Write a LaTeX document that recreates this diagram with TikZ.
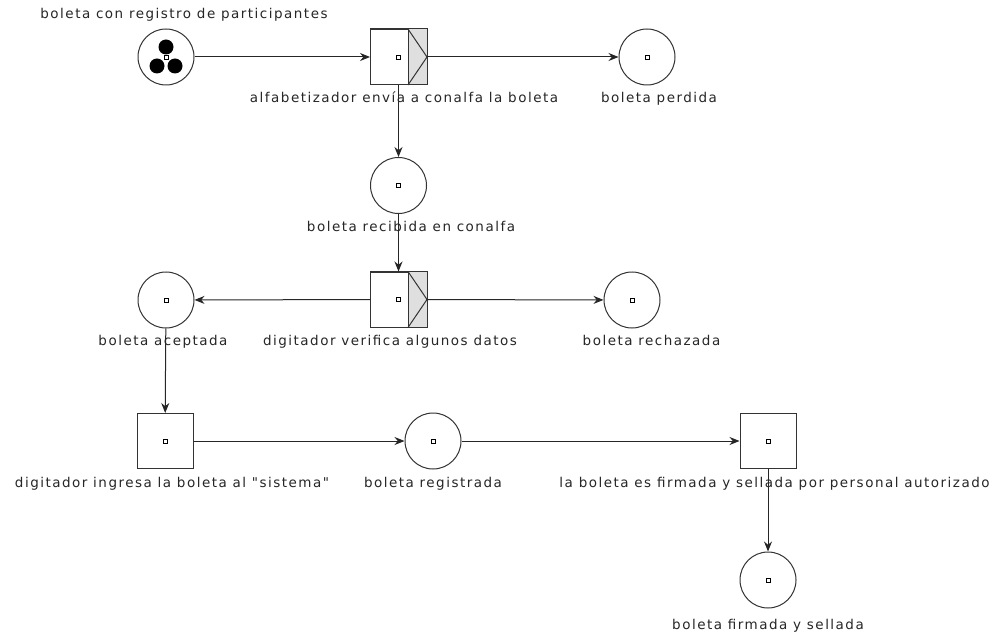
\documentclass[tikz,border=0pt]{standalone}
\usepackage{fontspec}
\setmainfont{DejaVu Sans}
\newfontfamily\lblfont[LetterSpace=11]{DejaVu Sans}
\usetikzlibrary{arrows.meta}

\begin{document}
\begin{tikzpicture}[x=1pt, y=-1pt, >={Stealth[length=10pt, width=8pt]}, line width=1pt,
  place/.style={circle, draw=black!80, minimum size=56pt, inner sep=0pt},
  trans/.style={rectangle, draw=black!80, minimum width=56pt, minimum height=55pt, inner sep=0pt},
  lbl/.style={anchor=base, font=\lblfont\fontsize{13.5}{16}\selectfont, text=black!85},
  arc/.style={->, draw=black!85}]
  \useasboundingbox (0,0) rectangle (1000,636);
  % places and transitions
  \node[place] (pInicio) at (166,57) {};
  \node[trans] (tEnvia) at (398.5,57) {};
  \node[place] (pPerdida) at (647,57) {};
  \node[place] (pRecibida) at (398.5,185.5) {};
  \node[trans] (tVerifica) at (398.5,299.5) {};
  \node[place] (pAceptada) at (166,300) {};
  \node[place] (pRechazada) at (632,300) {};
  \node[trans] (tIngresa) at (165,441) {};
  \node[place] (pRegistrada) at (433,441) {};
  \node[trans] (tFirma) at (768,441) {};
  \node[place] (pFirmada) at (768,580) {};
  % split operator part
  \foreach \t in {tEnvia,tVerifica} {
    \fill[gray!25] ([xshift=-19pt]\t.north east) rectangle (\t.south east);
    \draw[black!80] ([xshift=-19pt]\t.north east) -- ([xshift=-19pt]\t.south east);
    \draw[black!80] ([xshift=-19pt]\t.north east) -- (\t.east) -- ([xshift=-19pt]\t.south east);
    \draw[black!80] (\t.north west) rectangle (\t.south east);
  }
  % centre marks
  \foreach \n in {pInicio,tEnvia,pPerdida,pRecibida,tVerifica,pAceptada,pRechazada,tIngresa,pRegistrada,tFirma,pFirmada}
    \draw[line width=0.6pt] ([shift={(-2pt,-2pt)}]\n.center) rectangle ([shift={(2pt,2pt)}]\n.center);
  % tokens
  \foreach \dx/\dy in {0/-10,-9/9,9/9}
    \fill ([shift={(\dx,\dy)}]pInicio.center) circle (7.5pt);
  % arcs
  \draw[arc] (pInicio) -- (tEnvia);
  \draw[arc] (tEnvia) -- (pPerdida);
  \draw[arc] (tEnvia) -- (pRecibida);
  \draw[arc] (pRecibida) -- (tVerifica);
  \draw[arc] (tVerifica) -- (pAceptada);
  \draw[arc] (tVerifica) -- (pRechazada);
  \draw[arc] (pAceptada) -- (tIngresa);
  \draw[arc] (tIngresa) -- (pRegistrada);
  \draw[arc] (pRegistrada) -- (tFirma);
  \draw[arc] (tFirma) -- (pFirmada);
  % labels
  \node[lbl] (lInicio) at (184,19) {boleta con registro de participantes};
  \node[lbl] (lEnvia) at (404,103) {alfabetizador envía a conalfa la boleta};
  \node[lbl] (lPerdida) at (659,103) {boleta perdida};
  \node[lbl] (lRecibida) at (411,232) {boleta recibida en conalfa};
  \node[lbl] (lAceptada) at (163,345) {boleta aceptada};
  \node[lbl] (lVerifica) at (390,345) {digitador verifica algunos datos};
  \node[lbl] (lRechazada) at (651.5,345) {boleta rechazada};
  \node[lbl] (lIngresa) at (172,487) {digitador ingresa la boleta al "sistema"};
  \node[lbl] (lRegistrada) at (433,487) {boleta registrada};
  \node[lbl] (lFirma) at (774.5,487) {la boleta es firmada y sellada por personal autorizado};
  \node[lbl] (lFirmada) at (768,629) {boleta firmada y sellada};
\end{tikzpicture}
\end{document}
